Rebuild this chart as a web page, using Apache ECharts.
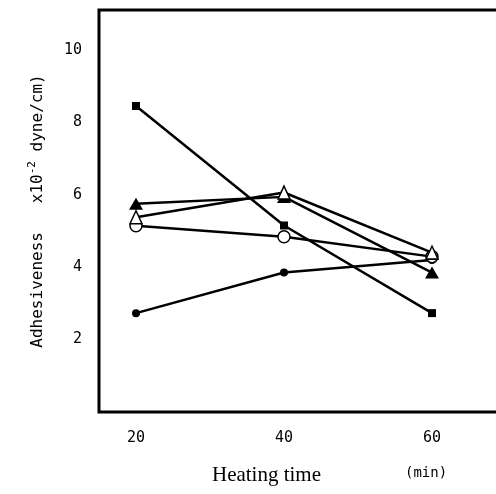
<!DOCTYPE html>
<html>
<head>
<meta charset="utf-8">
<script src="https://cdn.jsdelivr.net/npm/echarts@6/dist/echarts.min.js"></script>
<style>html,body{margin:0;padding:0;background:#fff;}#c{width:496px;height:494px;}</style>
</head>
<body>
<div id="c"></div>
<script>
var times = [20, 40, 60];
var xTicks = [20, 40, 60];
var yTicks = [2, 4, 6, 8, 10];
var squareFilled = [8.45, 5.15, 2.73];
var circleFilled = [2.73, 3.85, 4.2];
var circleOpen = [5.14, 4.84, 4.29];
var triangleFilled = [5.75, 5.94, 3.85];
var triangleOpen = [5.38, 6.06, 4.4];

function pairs(vals) { return times.map(function (t, i) { return [t, vals[i]]; }); }

var chart = echarts.init(document.getElementById('c'));
var lineStyle = { color: '#000', width: 2.5 };
function mk(name, data, symbol, size, open, z) {
  return {
    name: name, type: 'line', data: pairs(data), symbol: symbol, symbolSize: size,
    showSymbol: true, z: z,
    lineStyle: lineStyle,
    itemStyle: open ? { color: '#fff', borderColor: '#000', borderWidth: 1.5 } : { color: '#000', borderWidth: 0 },
    emphasis: { disabled: true }, animation: false
  };
}
var monoFont = 'DejaVu Sans Mono';
chart.setOption({
  animation: false,
  backgroundColor: '#fff',
  grid: { left: 99, top: 10, bottom: 82, right: -10, containLabel: false, outerBoundsMode: 'none', show: true, borderColor: '#000', borderWidth: 3, backgroundColor: 'transparent' },
  xAxis: {
    type: 'value', min: 15, max: 70, interval: 5,
    axisLine: { show: false }, axisTick: { show: false }, splitLine: { show: false },
    axisLabel: {
      margin: 19, fontFamily: monoFont, fontSize: 15, color: '#000',
      formatter: function (v) { return xTicks.indexOf(v) >= 0 ? String(v) : ''; }
    },
    name: 'Heating time', nameLocation: 'middle', nameGap: 53,
    nameTextStyle: { fontFamily: 'Liberation Serif', fontSize: 21, color: '#000', padding: [0, 72, 0, 0] }
  },
  yAxis: {
    type: 'value', min: 0, max: 11.1, interval: 2,
    axisLine: { show: false }, axisTick: { show: false }, splitLine: { show: false },
    axisLabel: {
      margin: 17, fontFamily: monoFont, fontSize: 15, color: '#000',
      formatter: function (v) { return yTicks.indexOf(v) >= 0 ? String(v) : ''; }
    },
    name: '{m|Adhesiveness   x10}{s|-2}{m| dyne/cm)}', nameLocation: 'middle', nameRotate: 90, nameGap: 50,
    nameTextStyle: {
      rich: {
        m: { fontFamily: monoFont, fontSize: 16, color: '#000', lineHeight: 22 },
        s: { fontFamily: monoFont, fontSize: 11, color: '#000', lineHeight: 13, verticalAlign: 'top' }
      }
    }
  },
  graphic: [{
    type: 'text', left: 405, top: 466,
    style: { text: '(min)', fontFamily: monoFont, fontSize: 14, fill: '#000' }
  }],
  series: [
    mk('square', squareFilled, 'rect', 8, false, 2),
    mk('circleFilled', circleFilled, 'circle', 8, false, 2),
    mk('circleOpen', circleOpen, 'circle', 12, true, 3),
    mk('triangleFilled', triangleFilled, 'triangle', [14, 12], false, 2),
    mk('triangleOpen', triangleOpen, 'triangle', [12, 13], true, 4)
  ]
});
</script>
</body>
</html>
